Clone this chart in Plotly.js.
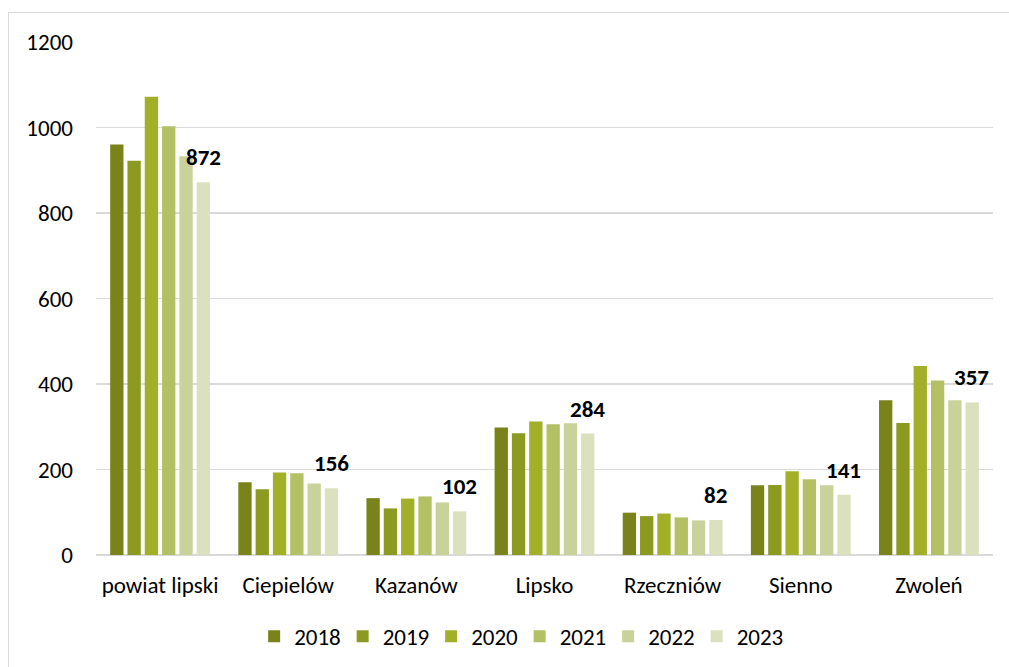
<!DOCTYPE html>
<html>
<head>
<meta charset="utf-8">
<script src="https://cdn.plot.ly/plotly-3.0.1.min.js"></script>
<style>
  html, body { margin: 0; padding: 0; background: #ffffff; }
  #chart { position: absolute; left: 0; top: 0; width: 1009px; height: 667px; }
  #frame { position: absolute; left: 8px; top: 12px; width: 1010px; height: 700px;
           border-top: 1px solid #d9d9d9; border-left: 1.5px solid #d9d9d9; pointer-events: none; }
</style>
</head>
<body>
<div id="chart"></div>
<div id="frame"></div>
<script>
const categories = ["powiat lipski", "Ciepielów", "Kazanów", "Lipsko", "Rzeczniów", "Sienno", "Zwoleń"];
const years = ["2018", "2019", "2020", "2021", "2022", "2023"];
const v2018 = [960, 170, 133, 298, 99, 163, 362];
const v2019 = [922, 154, 109, 285, 91, 164, 309];
const v2020 = [1072, 193, 132, 312, 97, 196, 442];
const v2021 = [1003, 191, 137, 306, 88, 177, 408];
const v2022 = [933, 167, 123, 308, 81, 163, 362];
const v2023 = [872, 156, 102, 284, 82, 141, 357];
const colors = ["#79831a", "#8c9a22", "#a1b028", "#b4c064", "#c9d29b", "#dbe0bf"];

const FONT = "Carlito, Calibri, Lato, 'Open Sans', sans-serif";
const FS = 23;
const series = [v2018, v2019, v2020, v2021, v2022, v2023];

const traces = series.map((vals, i) => ({
  type: "bar",
  name: years[i],
  x: categories,
  y: vals,
  marker: { color: colors[i] },
  hoverinfo: "x+y+name"
}));

const annotations = categories.map((c, j) => ({
  x: c, y: v2023[j], xref: "x", yref: "y",
  text: "<b>" + v2023[j] + "</b>",
  showarrow: false,
  xshift: 43, yshift: 9, yanchor: "bottom",
  font: { family: FONT, size: FS, color: "#000000" }
}));

const layout = {
  width: 1009, height: 667,
  margin: { l: 96, r: 16, t: 42, b: 112 },
  paper_bgcolor: "rgba(0,0,0,0)",
  plot_bgcolor: "#ffffff",
  barmode: "group",
  bargap: 0.19,
  bargroupgap: 0.23,
  font: { family: FONT, size: FS, color: "#000000" },
  xaxis: {
    type: "category",
    showgrid: false, showline: false, zeroline: false,
    ticks: "", ticklabelstandoff: 14,
    tickfont: { family: FONT, size: FS, color: "#000000" }
  },
  yaxis: {
    range: [0, 1200], tickvals: [0, 200, 400, 600, 800, 1000, 1200],
    showgrid: true, gridcolor: "#d9d9d9", gridwidth: 1.3,
    zeroline: true, zerolinecolor: "#d9d9d9", zerolinewidth: 1.3,
    showline: false, ticks: "", ticklabelstandoff: 22,
    tickfont: { family: FONT, size: FS, color: "#000000" }
  },
  legend: {
    orientation: "h", x: 0.515, xref: "container", xanchor: "center",
    y: 0.046, yref: "container", yanchor: "middle",
    font: { family: FONT, size: FS, color: "#000000" },
    traceorder: "normal", itemwidth: 30,
    entrywidth: 43.5, entrywidthmode: "pixels"
  },
  annotations: annotations,
  showlegend: true
};

Plotly.newPlot("chart", traces, layout, { displayModeBar: false, staticPlot: true });
</script>
</body>
</html>
